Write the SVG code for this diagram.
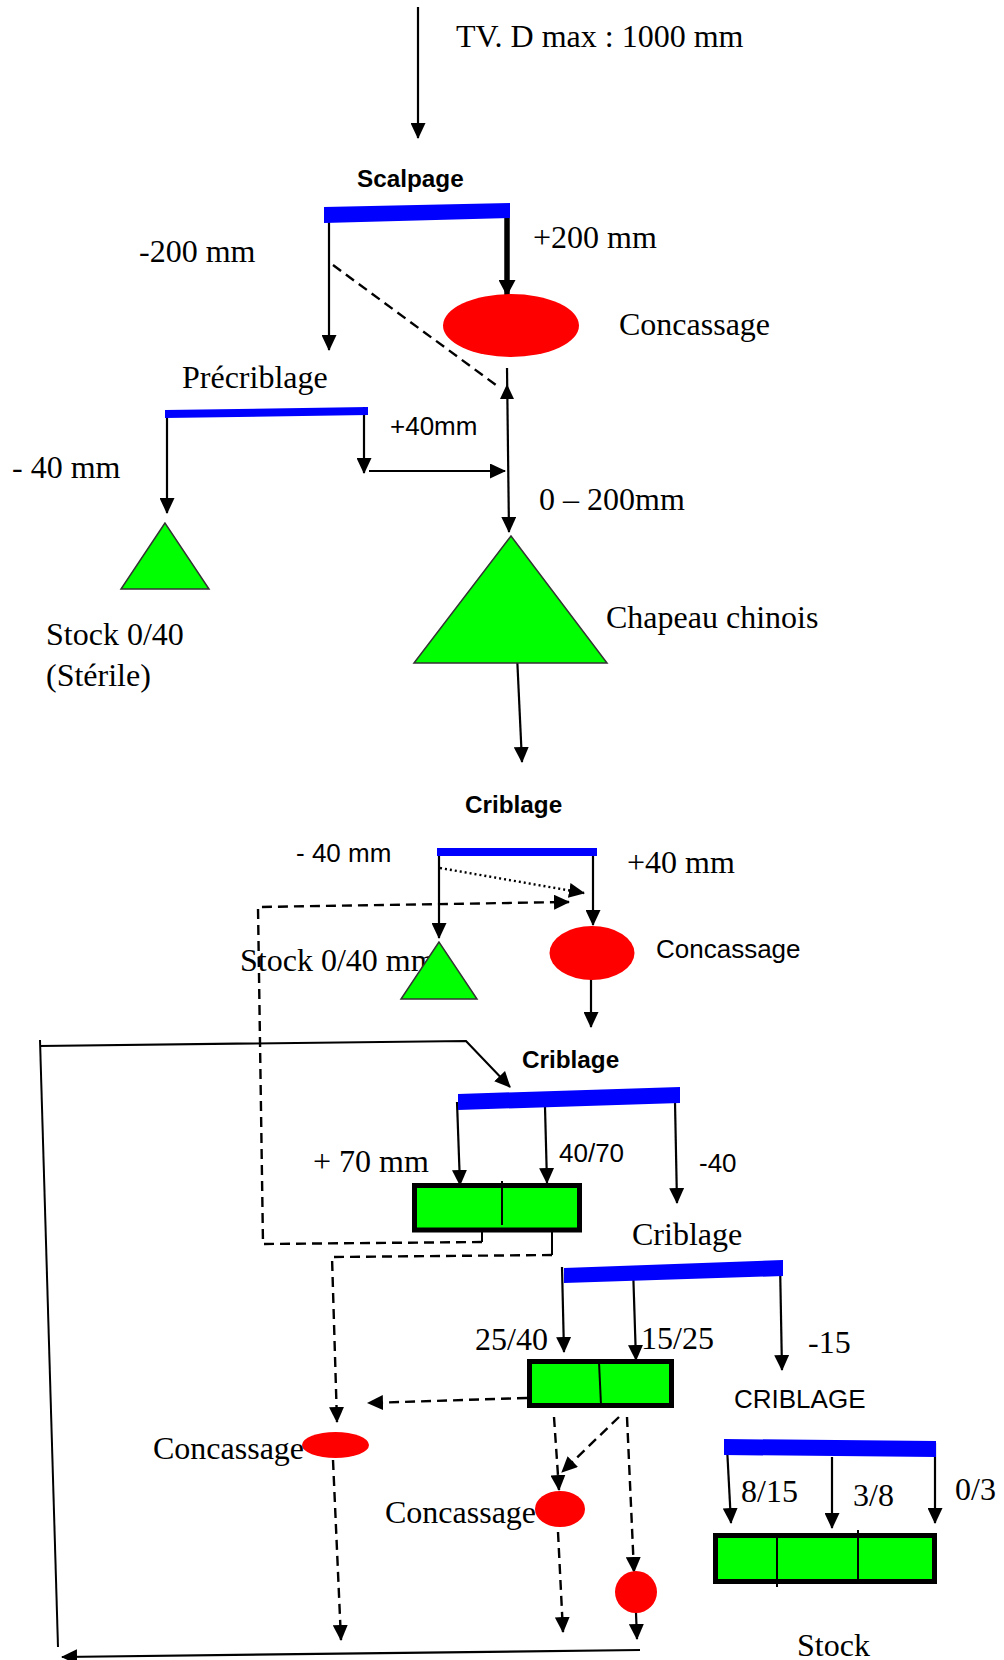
<svg xmlns="http://www.w3.org/2000/svg" width="1004" height="1660" viewBox="0 0 1004 1660">
<style>
.serif{font-family:"Liberation Serif","Times New Roman",serif;font-size:32px;fill:#000}
.sans{font-family:"Liberation Sans",Arial,sans-serif;font-size:26px;fill:#000}
.bold{font-family:"Liberation Sans",Arial,sans-serif;font-weight:bold;font-size:24.3px;fill:#000}
.ln{fill:none;stroke:#000;stroke-width:2}
.arr{fill:none;stroke:#000;stroke-width:2.2;marker-end:url(#ah)}
.dash{fill:none;stroke:#000;stroke-width:2.4;stroke-dasharray:10 6}
.dasharr{fill:none;stroke:#000;stroke-width:2.4;stroke-dasharray:10 6;marker-end:url(#ah)}
.bar{fill:#0000ff}
.red{fill:#ff0000}
.tri{fill:#00ff00;stroke:#333;stroke-width:1.5}
.box{fill:#00ff00;stroke:#000;stroke-width:5}
</style>
<defs>
<marker id="ah" viewBox="0 0 16 15" refX="15" refY="7.5" markerWidth="16" markerHeight="15" markerUnits="userSpaceOnUse" orient="auto"><path d="M0,0 L16,7.5 L0,15 z" fill="#000"/></marker>
<marker id="ahb" viewBox="0 0 16 17" refX="15" refY="8.5" markerWidth="16" markerHeight="17" markerUnits="userSpaceOnUse" orient="auto"><path d="M0,0 L16,8.5 L0,17 z" fill="#000"/></marker>
</defs>
<rect width="1004" height="1660" fill="#fff"/>

<g id="connectors">
<path class="arr" d="M418,7 L418,138"/>
<path class="arr" d="M329,207 L329,350"/>
<path d="M507,210 L507,295" fill="none" stroke="#000" stroke-width="5.5" marker-end="url(#ahb)"/>
<path class="dash" d="M333,265 L500,388"/>
<polygon points="507,384 500,399 514,399" fill="#000"/>
<path class="arr" d="M507,368 L509,532"/>
<path class="arr" d="M167,417 L167,513"/>
<path class="arr" d="M364,407 L364,473"/>
<path class="arr" d="M369,471 L505,471"/>
<path class="arr" d="M517,655 L522,762"/>
<path class="arr" d="M439,853 L439,938"/>
<path class="arr" d="M593,853 L593,925"/>
<path d="M440,868 L584,893" fill="none" stroke="#000" stroke-width="2.4" stroke-dasharray="2 3" marker-end="url(#ah)"/>
<path class="ln" d="M482,1232 L482,1242"/>
<path class="dasharr" d="M482,1242 L263,1244 L258,907 L569,902"/>
<path class="arr" d="M591,978 L591,1027"/>
<path class="arr" d="M40,1046 L466,1041 L510,1087" stroke-width="2.5"/>
<path class="ln" d="M40,1040 L58,1647"/>
<path class="arr" d="M640,1650 L62,1657" stroke-width="2.5"/>
<path class="arr" d="M457,1102 L460,1185"/>
<path class="arr" d="M545,1107 L547,1183"/>
<path class="arr" d="M675,1102 L677,1203"/>
<path class="ln" d="M552,1232 L552,1255"/>
<path class="dasharr" d="M552,1255 L332,1257 L337,1422"/>
<path class="arr" d="M562,1267 L564,1352"/>
<path class="arr" d="M633,1267 L636,1360"/>
<path class="arr" d="M780,1262 L782,1370"/>
<path class="dasharr" d="M527,1398 L368,1403"/>
<path class="dasharr" d="M554,1417 L559,1490"/>
<path class="dasharr" d="M619,1417 L562,1472"/>
<path class="dasharr" d="M627,1417 L634,1572"/>
<path class="dasharr" d="M333,1460 L341,1640"/>
<path class="dasharr" d="M558,1532 L563,1632"/>
<path class="arr" d="M636,1613 L637,1639"/>
<path class="arr" d="M727,1447 L731,1523"/>
<path class="arr" d="M832,1457 L832,1528"/>
<path class="arr" d="M935,1443 L935,1523"/>
</g>

<g id="labels">
<text class="serif" x="456" y="47" font-size="33">TV. D max : 1000 mm</text>
<text class="serif" x="139" y="262">-200 mm</text>
<text class="serif" x="533" y="248">+200 mm</text>
<text class="serif" x="12" y="478">- 40 mm</text>
<text class="sans" x="390" y="435">+40mm</text>
<text class="serif" x="539" y="510">0 – 200mm</text>
<text class="sans" x="296" y="862">- 40 mm</text>
<text class="serif" x="627" y="873">+40 mm</text>
<text class="serif" x="313" y="1172">+ 70 mm</text>
<text class="sans" x="559" y="1162" font-size="22.5">40/70</text>
<text class="sans" x="699" y="1172">-40</text>
<text class="serif" x="475" y="1350">25/40</text>
<text class="serif" x="641" y="1349" font-size="31">15/25</text>
<text class="serif" x="808" y="1353" font-size="31">-15</text>
<text class="serif" x="741" y="1502" font-size="31">8/15</text>
<text class="serif" x="853" y="1506" font-size="31">3/8</text>
<text class="serif" x="955" y="1500" font-size="31">0/3</text>
</g>

<g id="scalpage">
<text class="bold" x="357" y="187">Scalpage</text>
<polygon class="bar" points="324,207 510,203 510,218 324,223"/>
</g>
<g id="concassage1">
<ellipse class="red" cx="511" cy="325.5" rx="68" ry="31.5"/>
<text class="serif" x="619" y="335">Concassage</text>
</g>
<g id="precriblage">
<text class="serif" x="182" y="388">Précriblage</text>
<polygon class="bar" points="165,410 368,407 368,415 165,418"/>
</g>
<g id="stock040">
<polygon class="tri" points="165,523 121,589 209,589"/>
<text class="serif" x="46" y="645">Stock 0/40</text>
<text class="serif" x="46" y="686">(Stérile)</text>
</g>
<g id="chapeau">
<polygon class="tri" points="511,536 414,663 607,663"/>
<text class="serif" x="606" y="628">Chapeau chinois</text>
</g>
<g id="criblage1">
<text class="bold" x="465" y="813">Criblage</text>
<rect class="bar" x="437" y="848" width="160" height="8"/>
</g>
<g id="stock040mm">
<text class="serif" x="240" y="971">Stock 0/40 mm</text>
<polygon class="tri" points="439,942 401,999 477,999"/>
</g>
<g id="concassage2">
<ellipse class="red" cx="592" cy="953" rx="42.5" ry="27"/>
<text class="sans" x="656" y="958">Concassage</text>
</g>
<g id="criblage2">
<text class="bold" x="522" y="1068">Criblage</text>
<polygon class="bar" points="458,1094 680,1087 680,1103 458,1110"/>
</g>
<g id="box1">
<rect class="box" x="414.5" y="1185.5" width="165" height="44.5"/>
<path class="ln" d="M502,1181 L502,1225"/>
</g>
<g id="criblage3">
<text class="serif" x="632" y="1245">Criblage</text>
<polygon class="bar" points="564,1268 783,1260 783,1276 564,1283"/>
</g>
<g id="box2">
<rect class="box" x="529.5" y="1361.5" width="142" height="44"/>
<path class="ln" d="M599,1362 L601,1405"/>
</g>
<g id="criblage4">
<text class="sans" x="734" y="1408">CRIBLAGE</text>
<polygon class="bar" points="724,1439 936,1441 936,1457 724,1455"/>
</g>
<g id="box3">
<rect class="box" x="715.5" y="1535.5" width="219" height="46"/>
<path class="ln" d="M777,1533 L777,1587"/>
<path class="ln" d="M858,1530 L858,1581"/>
</g>
<g id="concassage3">
<ellipse class="red" cx="335.5" cy="1445" rx="33.5" ry="13"/>
<text class="serif" x="153" y="1459">Concassage</text>
</g>
<g id="concassage4">
<ellipse class="red" cx="560" cy="1509" rx="25" ry="18"/>
<text class="serif" x="385" y="1523">Concassage</text>
</g>
<g id="concassage5">
<circle class="red" cx="636" cy="1592" r="21"/>
</g>
<g id="stock">
<text class="serif" x="797" y="1656">Stock</text>
</g>
</svg>
